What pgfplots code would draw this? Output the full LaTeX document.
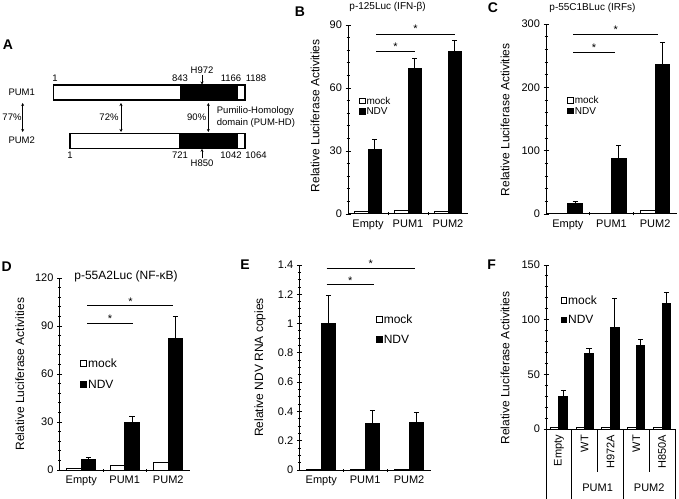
\documentclass[border=0pt]{standalone}
\usepackage{fontspec}
\setmainfont{Liberation Sans}
\setsansfont{Liberation Sans}
\usepackage{pgfplots}
\pgfplotsset{compat=1.18}
\usetikzlibrary{arrows.meta}
\newcommand{\fs}[1]{\fontsize{#1}{#1}\selectfont}

\tikzset{sigstar/.style={anchor=base, inner sep=0pt, font=\fs{11}}}
\pgfplotsset{
  panel/.style={
    scale only axis,
    axis x line*=bottom,
    axis y line*=left,
    axis line style={-, line width=1pt, black},
    ymin=0, xmin=-0.5, xmax=2.5,
    clip=false,
    tick align=center,
    major tick length=5pt,
    minor tick length=3pt,
    y tick style={line width=0.9pt, black},
    major x tick style={draw=none},
    minor x tick style={line width=0.9pt, black},
    xtick={0,1,2},
    xticklabels={Empty,PUM1,PUM2},
    tick label style={font=\fs{11}},
    ylabel style={font=\fs{12}, anchor=center},
    every axis title shift=0pt,
    title style={font=\fs{10}, anchor=center},
    /pgf/number format/assume math mode=true,
    legend cell align=left,
    legend style={draw=none, fill=none, font=\fs{10}, anchor=west, inner sep=0pt, nodes={inner sep=1pt}},
  },
  mock/.style={ybar, bar width=0.3333, bar shift=0, fill=white, draw=black, line width=1pt,
    /pgfplots/x filter/.expression={x-0.16667},
    /pgfplots/legend image code/.code={\draw[line width=1pt, draw=black, fill=white] (0pt,-2.4pt) rectangle (5.6pt,3.2pt);}},
  ndv/.style={ybar, bar width=0.3333, bar shift=0, fill=black, draw=black, line width=1pt,
    /pgfplots/x filter/.expression={x+0.16667},
    /pgfplots/legend image code/.code={\draw[line width=1pt, draw=black, fill=black] (0pt,-2.4pt) rectangle (5.6pt,3.2pt);},
    /pgfplots/error bars/y dir=plus,
    /pgfplots/error bars/y explicit,
    /pgfplots/error bars/error bar style={line width=1pt, black},
    /pgfplots/error bars/error mark options={rotate=90, line width=1pt, black, mark size=2.6pt}},
}

\begin{document}
\begin{tikzpicture}[x=1pt,y=1pt]
\path[use as bounding box] (0,0) rectangle (679,498);

% ---------------- Panel A ----------------
\node[font=\bfseries\fs{14}] at (8,453) {A};
\begin{scope}[font=\fs{9.5}]
\draw[line width=1.1pt, fill=white] (53.3,398) rectangle (245,413);
\fill[black] (180,398) rectangle (238.3,413);
\draw[line width=1.1pt] (53.3,398) rectangle (245,413);
\draw[line width=1.1pt, fill=white] (70,349.7) rectangle (245,364.7);
\fill[black] (179.3,349.7) rectangle (237.7,364.7);
\draw[line width=1.1pt] (70,349.7) rectangle (245,364.7);
\node at (55,419.5) {1};
\node at (180,419.5) {843};
\node at (231,419.5) {1166};
\node at (256,419.5) {1188};
\node at (202,427.5) {H972};
\draw[line width=0.8pt, -{Stealth[length=3pt,width=3pt]}] (202,423) -- (202,413.5);
\node at (70,343) {1};
\node at (180,343) {721};
\node at (231,343) {1042};
\node at (256,343) {1064};
\node at (202,334.7) {H850};
\draw[line width=0.8pt, -{Stealth[length=3pt,width=3pt]}] (202,339.5) -- (202,349.2);
\node at (21.7,405.7) {PUM1};
\node at (21.7,357.3) {PUM2};
\node at (12,380.7) {77\%};
\node at (109,380.7) {72\%};
\node at (196.7,380.7) {90\%};
\draw[line width=0.8pt, {Stealth[length=3pt,width=3pt]}-{Stealth[length=3pt,width=3pt]}] (22.7,395) -- (22.7,366);
\draw[line width=0.8pt, {Stealth[length=3pt,width=3pt]}-{Stealth[length=3pt,width=3pt]}] (121,395) -- (121,366);
\draw[line width=0.8pt, {Stealth[length=3pt,width=3pt]}-{Stealth[length=3pt,width=3pt]}] (208.3,395) -- (208.3,366);
\node[anchor=west, inner sep=0pt] at (216.7,387) {Pumilio-Homology};
\node[anchor=west, inner sep=0pt] at (216.7,375.3) {domain (PUM-HD)};
\end{scope}

% ---------------- Panel letters ----------------
\node[font=\bfseries\fs{14}] at (300,486) {B};
\node[font=\bfseries\fs{14}] at (493,490) {C};
\node[font=\bfseries\fs{14}] at (6.7,231.3) {D};
\node[font=\bfseries\fs{14}] at (245,233) {E};
\node[font=\bfseries\fs{14}] at (491.7,233) {F};

% ---------------- Panel B ----------------
\begin{axis}[panel, at={(348pt,284pt)}, anchor=south west, width=120pt, height=189pt,
  ymax=90, ytick={0,30,60,90}, minor y tick num=4, minor xtick={0.5,1.5},
  ylabel={Relative Luciferase Activities},
  ylabel style={at={(axis description cs:-0.275,0.52)}},
  title={p-125Luc (IFN-β)}, title style={at={(axis description cs:0.33,1.094)}},
  legend style={at={(axis cs:-0.2325,51.1)}}]
\addplot[mock] coordinates {(0,1.0) (1,1.5) (2,1.0)};
\addplot[ndv] coordinates {(0,30.5) +- (0,5) (1,69.5) +- (0,4.5) (2,77.5) +- (0,5)};
\legend{mock,NDV}
\draw[line width=1pt] (axis cs:0.2,77.3) -- (axis cs:1.17,77.3);
\node[sigstar] at (axis cs:0.685,77.8) {*};
\draw[line width=1pt] (axis cs:0.2,85.7) -- (axis cs:2.17,85.7);
\node[sigstar] at (axis cs:1.185,86.2) {*};
\end{axis}

% ---------------- Panel C ----------------
\begin{axis}[panel, at={(546pt,284pt)}, anchor=south west, width=131pt, height=190pt,
  ymax=300, ytick={0,100,200,300}, minor y tick num=4, minor xtick={0.5,1.5},
  ylabel={Relative Luciferase Activities},
  ylabel style={at={(axis description cs:-0.313,0.495)}},
  title={p-55C1BLuc (IRFs)}, title style={at={(axis description cs:0.355,1.084)}},
  legend style={at={(axis cs:-0.019,170.3)}}]
\addplot[mock] coordinates {(0,1.0) (1,1.5) (2,5.0)};
\addplot[ndv] coordinates {(0,16.5) +- (0,2.5) (1,87) +- (0,21) (2,236) +- (0,35)};
\legend{mock,NDV}
\draw[line width=1pt] (axis cs:0.125,255.4) -- (axis cs:1.08,255.4);
\node[sigstar] at (axis cs:0.6,257) {*};
\draw[line width=1pt] (axis cs:0.125,282.8) -- (axis cs:2.07,282.8);
\node[sigstar] at (axis cs:1.1,284.4) {*};
\end{axis}

% ---------------- Panel D ----------------
\begin{axis}[panel, at={(59.5pt,28pt)}, anchor=south west, width=130.5pt, height=192pt,
  ymax=120, ytick={0,30,60,90,120}, minor y tick num=4, minor xtick={0.5,1.5},
  ylabel={Relative Luciferase Activities},
  ylabel style={at={(axis description cs:-0.303,0.5)}},
  title={p-55A2Luc (NF-κB)}, title style={at={(axis description cs:0.51,1.007)}, font=\fs{12}},
  legend style={at={(axis cs:-0.022,59.9)}, font=\fs{12}, row sep=9pt}]
\addplot[mock] coordinates {(0,1.0) (1,2.8) (2,5.0)};
\addplot[ndv] coordinates {(0,6.5) +- (0,1.2) (1,29.5) +- (0,3.8) (2,82) +- (0,14)};
\legend{mock,NDV}
\draw[line width=1pt] (axis cs:0.139,91.7) -- (axis cs:1.18,91.7);
\node[sigstar] at (axis cs:0.66,92.1) {*};
\draw[line width=1pt] (axis cs:0.139,102.7) -- (axis cs:2.116,102.7);
\node[sigstar] at (axis cs:1.13,103.1) {*};
\end{axis}

% ---------------- Panel E ----------------
\begin{axis}[panel, at={(299.3pt,28pt)}, anchor=south west, width=131.7pt, height=205pt,
  ymax=1.4, ytick={0,0.2,0.4,0.6,0.8,1,1.2,1.4}, minor y tick num=3, minor xtick={0.5,1.5},
  ylabel={Relative NDV RNA copies},
  ylabel style={at={(axis description cs:-0.298,0.5)}},
  legend style={at={(axis cs:1.247,0.958)}, font=\fs{12}, row sep=8pt}]
\addplot[mock] coordinates {(0,0.003) (1,0.003) (2,0.003)};
\addplot[ndv] coordinates {(0,1.0) +- (0,0.19) (1,0.32) +- (0,0.085) (2,0.325) +- (0,0.07)};
\legend{mock,NDV}
\draw[line width=1pt] (axis cs:0.124,1.264) -- (axis cs:1.2,1.264);
\node[sigstar] at (axis cs:0.66,1.267) {*};
\draw[line width=1pt] (axis cs:0.124,1.378) -- (axis cs:2.135,1.378);
\node[sigstar] at (axis cs:1.13,1.381) {*};
\end{axis}

% ---------------- Panel F ----------------
\begin{axis}[panel, at={(546pt,69pt)}, anchor=south west, width=129pt, height=164pt,
  xmax=4.5, ymax=150, ytick={0,50,100,150}, minor y tick num=4,
  xtick={0,1,2,3,4}, xticklabels={Empty,WT,H972A,WT,H850A},
  xticklabel style={rotate=90, anchor=east},
  ylabel={Relative Luciferase Activities},
  ylabel style={at={(axis description cs:-0.318,0.372)}},
  legend style={at={(axis cs:0.054,108.4)}, font=\fs{12}, row sep=8pt}]
\addplot[mock] coordinates {(0,1.0) (1,1.5) (2,1.0) (3,1.0) (4,1.0)};
\addplot[ndv] coordinates {(0,30) +- (0,5.5) (1,69) +- (0,4.5) (2,93) +- (0,26.5) (3,76.5) +- (0,5.5) (4,114.5) +- (0,10.5)};
\legend{mock,NDV}
\draw[line width=1pt] (axis cs:-0.5,0) -- (axis cs:-0.5,-64);
\draw[line width=1pt] (axis cs:0.5,0) -- (axis cs:0.5,-64);
\draw[line width=1pt] (axis cs:1.5,0) -- (axis cs:1.5,-39.3);
\draw[line width=1pt] (axis cs:2.5,0) -- (axis cs:2.5,-64);
\draw[line width=1pt] (axis cs:3.5,0) -- (axis cs:3.5,-39.3);
\draw[line width=1pt] (axis cs:4.5,0) -- (axis cs:4.5,-64);
\node[font=\fs{11}] at (axis cs:1.5,-54) {PUM1};
\node[font=\fs{11}] at (axis cs:3.5,-54) {PUM2};
\end{axis}
\end{tikzpicture}
\end{document}
